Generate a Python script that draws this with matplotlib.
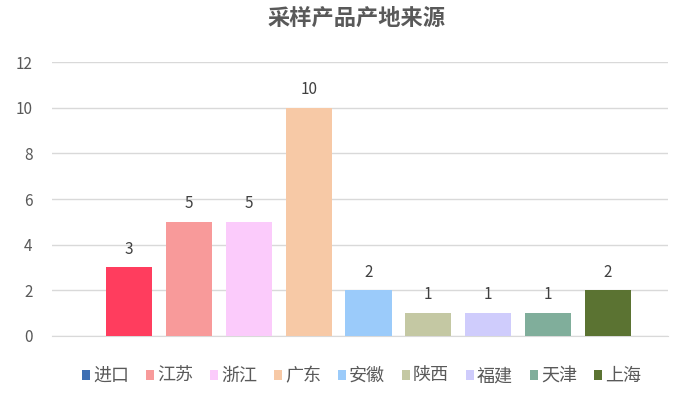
import matplotlib.pyplot as plt
from matplotlib.patches import Patch

plt.rcParams['font.family'] = ['Noto Sans CJK SC', 'DejaVu Sans']

# 数据
categories = ['进口', '江苏', '浙江', '广东', '安徽', '陕西', '福建', '天津', '上海']
values = [3, 5, 5, 10, 2, 1, 1, 1, 2]
bar_colors = ['#FF3D5E', '#F89A9A', '#FBCBFB', '#F7C9A6', '#9BCBFA',
              '#C4C8A3', '#CFCCFC', '#80AE9B', '#5B7332']
legend_colors = ['#3E6FB3', '#F89A9A', '#FBCBFB', '#F7C9A6', '#9BCBFA',
                 '#C4C8A3', '#CFCCFC', '#80AE9B', '#5B7332']
y_ticks = [0, 2, 4, 6, 8, 10, 12]

fig = plt.figure(figsize=(6.82, 3.98), dpi=100)
ax = fig.add_axes([0.0762, 0.1558, 0.9028, 0.6884])

x = list(range(len(values)))
ax.bar(x, values, width=0.77, color=bar_colors, zorder=3)

# value labels above the bars
for xi, v in zip(x, values):
    ax.annotate(str(v), (xi, v), xytext=(0, 7), textcoords='offset points',
                ha='center', va='bottom', fontsize=11, color='#404040')

ax.set_xlim(-1.29, 9.0)
ax.set_ylim(0, 12)
ax.set_yticks(y_ticks)
ax.set_xticks([])
ax.tick_params(axis='y', length=0, pad=14, labelsize=11, labelcolor='#595959')
ax.grid(axis='y', color='#D9D9D9', linewidth=1, zorder=0)
for s in ['top', 'right', 'left']:
    ax.spines[s].set_visible(False)
ax.spines['bottom'].set_color('#D9D9D9')

fig.suptitle('采样产品产地来源', x=0.523, y=0.955, va='center', fontsize=16,
             fontweight='bold', color='#595959')

handles = [Patch(facecolor=c, edgecolor='none') for c in legend_colors]
fig.legend(handles, categories, loc='center', bbox_to_anchor=(0.53, 0.055),
           ncol=9, frameon=False, fontsize=13, handlelength=0.45, handleheight=0.45,
           handletextpad=0.15, columnspacing=0.95, labelcolor='#595959',
           borderpad=0)

fig.savefig('out.png', dpi=100)
